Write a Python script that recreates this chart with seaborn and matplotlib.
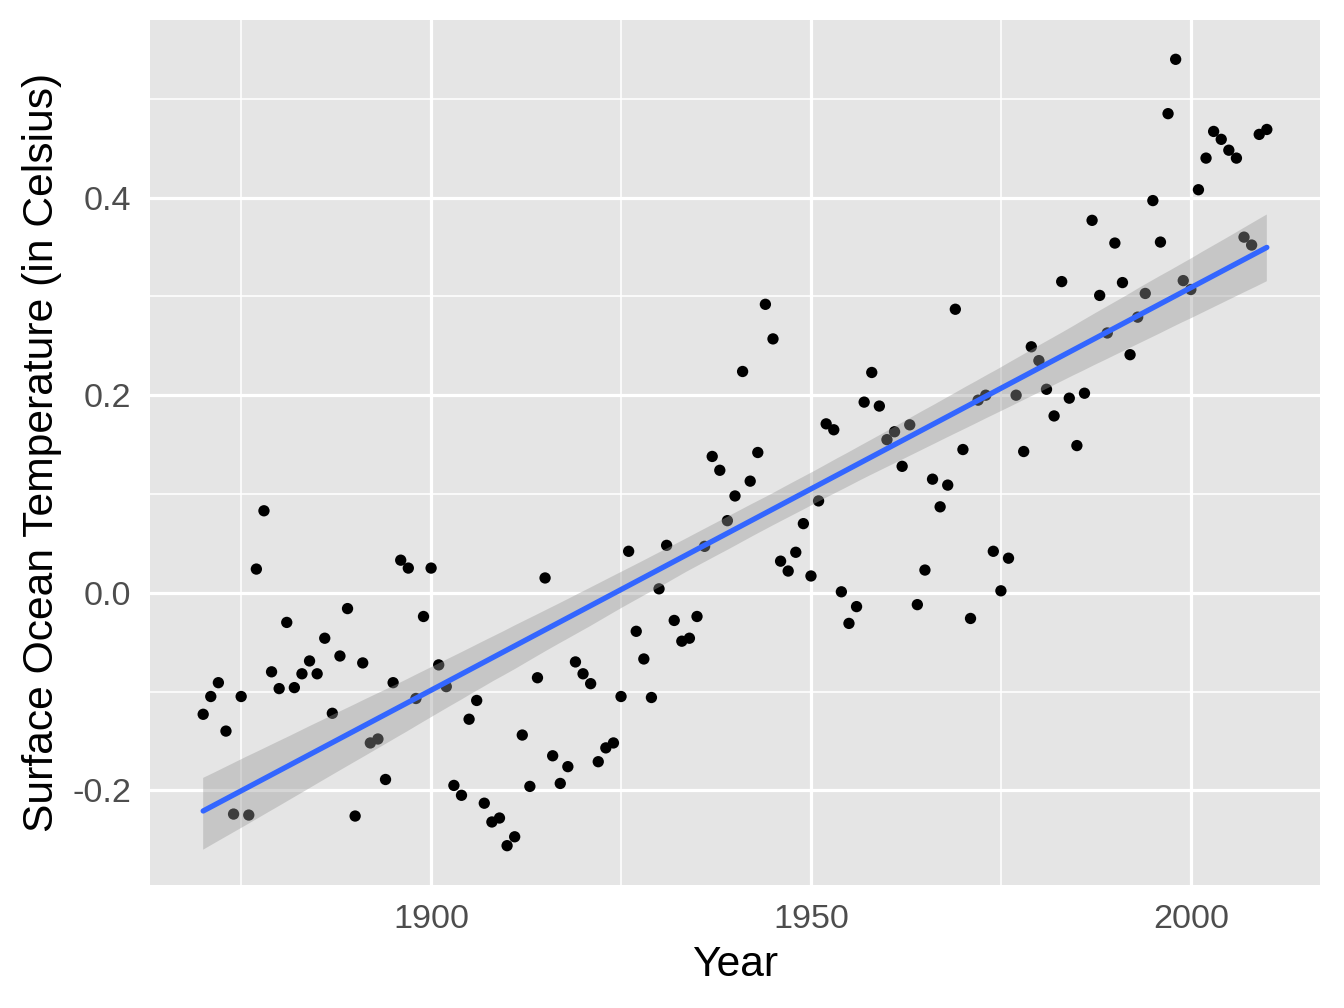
import numpy as np
import pandas as pd
import seaborn as sns
import matplotlib.pyplot as plt

years = list(range(1870, 2011))
temps = [
    -0.123, -0.105, -0.091, -0.140, -0.224, -0.105, -0.225, 0.024, 0.083, -0.080,
    -0.097, -0.030, -0.096, -0.082, -0.069, -0.082, -0.046, -0.122, -0.064, -0.016,
    -0.226, -0.071, -0.152, -0.148, -0.189, -0.091, 0.033, 0.025, -0.107, -0.024,
    0.025, -0.073, -0.095, -0.195, -0.205, -0.128, -0.109, -0.213, -0.232, -0.228,
    -0.256, -0.247, -0.144, -0.196, -0.086, 0.015, -0.165, -0.193, -0.176, -0.070,
    -0.082, -0.092, -0.171, -0.157, -0.152, -0.105, 0.042, -0.039, -0.067, -0.106,
    0.004, 0.048, -0.028, -0.049, -0.046, -0.024, 0.047, 0.138, 0.124, 0.073,
    0.098, 0.224, 0.113, 0.142, 0.292, 0.257, 0.032, 0.022, 0.041, 0.070,
    0.017, 0.093, 0.171, 0.165, 0.001, -0.031, -0.014, 0.193, 0.223, 0.189,
    0.155, 0.163, 0.128, 0.170, -0.012, 0.023, 0.115, 0.087, 0.109, 0.287,
    0.145, -0.026, 0.195, 0.200, 0.042, 0.002, 0.035, 0.200, 0.143, 0.249,
    0.235, 0.206, 0.179, 0.315, 0.197, 0.149, 0.202, 0.377, 0.301, 0.263,
    0.354, 0.314, 0.241, 0.279, 0.303, 0.397, 0.355, 0.485, 0.540, 0.316,
    0.307, 0.408, 0.440, 0.467, 0.459, 0.448, 0.440, 0.360, 0.352, 0.464,
    0.469,
]
x_ticks = [1900, 1950, 2000]
x_minor = [1875, 1925, 1975]
y_ticks = [-0.2, 0.0, 0.2, 0.4]
y_tick_labels = ["-0.2", "0.0", "0.2", "0.4"]
y_minor = [-0.1, 0.1, 0.3, 0.5]

df = pd.DataFrame({"Year": years, "Temp": temps})

sns.set_theme(style="darkgrid")
plt.rcParams["font.family"] = ["Liberation Sans", "DejaVu Sans"]

fig = plt.figure(figsize=(7, 5.25), dpi=192)
ax = fig.add_axes([150/1344, 1-885/1008, (1320-150)/1344, (885-20)/1008])
ax.set_facecolor("#E5E5E5")

sns.scatterplot(data=df, x="Year", y="Temp", color="black", s=18,
                edgecolor="none", ax=ax, zorder=3)
sns.regplot(data=df, x="Year", y="Temp", scatter=False, ci=95, n_boot=2000,
            seed=1, color="#3366FF", line_kws={"linewidth": 2.0, "zorder": 5},
            ax=ax)
for coll in ax.collections:
    if isinstance(coll, plt.matplotlib.collections.PolyCollection):
        coll.set_facecolor("#999999")
        coll.set_edgecolor("none")
        coll.set_alpha(0.4)
        coll.set_zorder(4)
for ln in ax.lines:
    ln.set_color("#3366FF")
    ln.set_linewidth(2.0)

xr = max(years) - min(years)
ax.set_xlim(min(years) - 0.05*xr, max(years) + 0.05*xr)
yr = max(temps) - min(temps)
ax.set_ylim(min(temps) - 0.05*yr, max(temps) + 0.05*yr)

ax.set_xticks(x_ticks)
ax.set_xticks(x_minor, minor=True)
ax.set_yticks(y_ticks)
ax.set_yticklabels(y_tick_labels)
ax.set_yticks(y_minor, minor=True)
ax.grid(which="major", color="white", lw=1.2)
ax.grid(which="minor", color="white", lw=0.6)
ax.set_axisbelow(True)
for s in ax.spines.values():
    s.set_visible(False)
ax.tick_params(which="major", length=4, width=1.0, color="#333333",
               labelsize=12.8, labelcolor="#4D4D4D", pad=3)
ax.tick_params(which="minor", length=0)

ax.set_xlabel("Year", fontsize=16, color="black", labelpad=4)
ax.set_ylabel("Surface Ocean Temperature (in Celsius)", fontsize=16,
              color="black", labelpad=4)

fig.savefig("out.png", dpi=192)
